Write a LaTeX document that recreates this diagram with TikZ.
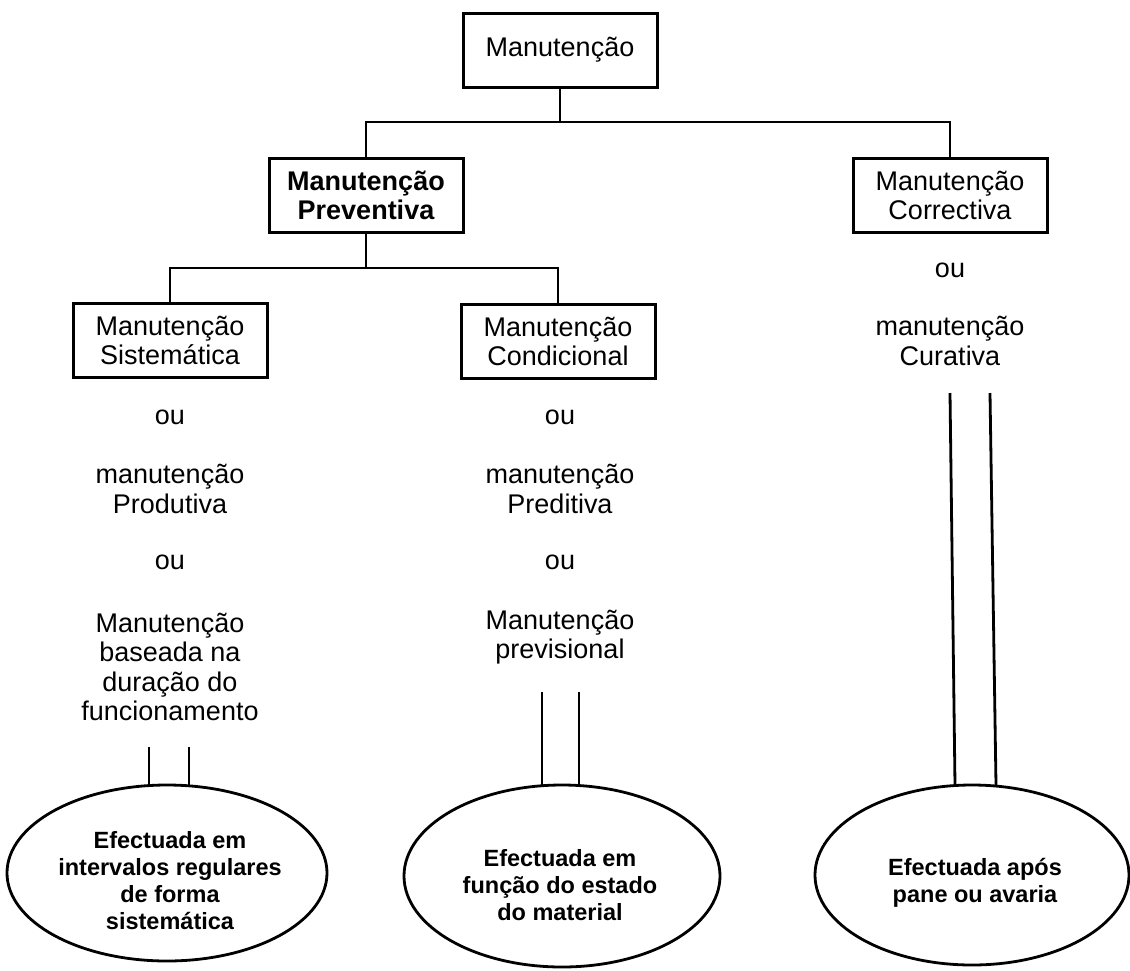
\documentclass[tikz,border=0pt]{standalone}
\usepackage{fontspec}
\setmainfont{Liberation Sans}
\usetikzlibrary{shapes.geometric}
\begin{document}
\begin{tikzpicture}[x=1pt,y=-1pt,
  every node/.style={inner sep=0pt, outer sep=0pt},
  link/.style={line width=2.8pt, line cap=rect},
  rail/.style={line width=2.8pt},
  kindbox/.style={draw, line width=3pt, minimum width=194pt, minimum height=74pt,
    align=center, font=\fontsize{27}{29}\selectfont},
  note/.style={align=center, font=\fontsize{27}{29.5}\selectfont},
  oval/.style={draw, ellipse, line width=2.8pt},
  desc/.style={align=center, font=\bfseries\fontsize{23.5}{27}\selectfont}]
  \useasboundingbox (0,0) rectangle (1130,970);

  % tree of maintenance types
  \node[kindbox] (top)  at (560,50)  {Manutenção};
  \node[kindbox, font=\bfseries\fontsize{27}{29}\selectfont] (prev) at (366,195) {Manutenção\\Preventiva};
  \node[kindbox] (corr) at (950,195) {Manutenção\\Correctiva};
  \node[kindbox] (sist) at (170,340) {Manutenção\\Sistemática};
  \node[kindbox] (cond) at (558,341) {Manutenção\\Condicional};

  \coordinate (j1) at (560,122);
  \coordinate (j2) at (366,268);
  \draw[link] (top.south) -- (j1);
  \draw[link] (prev.north) |- (j1) -| (corr.north);
  \draw[link] (prev.south) -- (j2);
  \draw[link] (sist.north) |- (j2) -| (cond.north);

  % synonyms under each kind
  \node[note] (s1) at (170,417) {ou};
  \node[note] (s2) at (170,489) {manutenção\\Produtiva};
  \node[note] (s3) at (170,562) {ou};
  \node[note] (s4) at (170,667) {Manutenção\\baseada na\\duração do\\funcionamento};

  \node[note] (c1) at (560,417) {ou};
  \node[note] (c2) at (560,489) {manutenção\\Preditiva};
  \node[note] (c3) at (560,562) {ou};
  \node[note] (c4) at (560,637) {Manutenção\\previsional};

  \node[note] (r1) at (950,270) {ou};
  \node[note] (r2) at (950,341) {manutenção\\Curativa};

  % descriptions
  \node[oval, minimum width=320pt, minimum height=176pt] (e1) at (167,873) {};
  \node[oval, minimum width=316pt, minimum height=182pt] (e2) at (562,876) {};
  \node[oval, minimum width=314pt, minimum height=180pt] (e3) at (972,875) {};
  \node[desc] (t1) at (170,881) {Efectuada em\\intervalos regulares\\de forma\\sistemática};
  \node[desc] (t2) at (560,885) {Efectuada em\\função do estado\\do material};
  \node[desc] (t3) at (975,883) {Efectuada após\\pane ou avaria};

  % double rails down to the descriptions
  \coordinate (a1) at (149,747);
  \coordinate (a2) at (189,747);
  \draw[rail] (a1) -- (a1 |- e1.north);
  \draw[rail] (a2) -- (a2 |- e1.north);

  \coordinate (b1) at (542,692);
  \coordinate (b2) at (579,692);
  \draw[rail] (b1) -- (b1 |- e2.north);
  \draw[rail] (b2) -- (b2 |- e2.north);

  \coordinate (d1) at (950,393);
  \coordinate (d2) at (990,393);
  \coordinate (d1e) at (955,785);
  \coordinate (d2e) at (996,785);
  \draw[rail] (d1) -- (d1e);
  \draw[rail] (d2) -- (d2e);
\end{tikzpicture}
\end{document}
